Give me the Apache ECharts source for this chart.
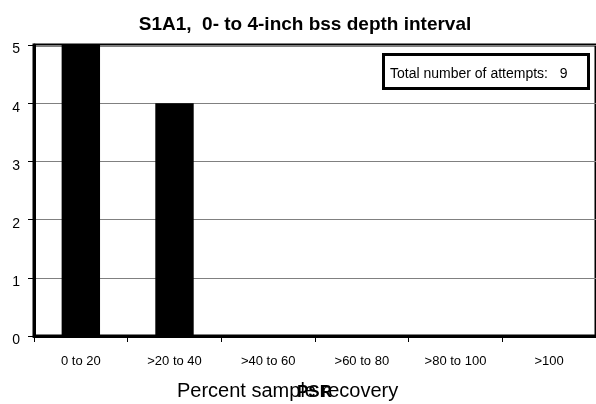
<!DOCTYPE html>
<html>
<head>
<meta charset="utf-8">
<script src="https://cdn.jsdelivr.net/npm/echarts@6/dist/echarts.min.js"></script>
<style>html,body{margin:0;padding:0;background:#fff;}#c{width:596px;height:404px;}</style>
</head>
<body>
<div id="c"></div>
<script>
var categories = ['0 to 20', '>20 to 40', '>40 to 60', '>60 to 80', '>80 to 100', '>100'];
var counts = [5, 4, 0, 0, 0, 0];
var yTicks = [0, 1, 2, 3, 4, 5];
var totalAttempts = 9;
var titleText = 'S1A1,  0- to 4-inch bss depth interval';
var xTitle = 'Percent sample recovery';
var overlayText = 'PSR';

var chart = echarts.init(document.getElementById('c'), null, {renderer: 'canvas'});
var font = 'Liberation Sans, Arial, sans-serif';
chart.setOption({
  animation: false,
  backgroundColor: '#fff',
  title: [{
    text: titleText,
    left: 300, top: 10, textAlign: 'center',
    textStyle: {fontFamily: font, fontSize: 19, fontWeight: 'bold', color: '#000'}
  }],
  grid: {
    left: 34, top: 45, width: 565, height: 291,
    show: true, borderColor: '#000', borderWidth: 3, backgroundColor: 'transparent'
  },
  xAxis: {
    type: 'category', data: categories,
    axisLine: {show: true, lineStyle: {color: '#000', width: 3}},
    axisTick: {show: true, length: 6, lineStyle: {color: '#000'}},
    axisLabel: {fontFamily: font, fontSize: 13, color: '#000', margin: 19}
  },
  yAxis: {
    type: 'value', min: yTicks[0], max: yTicks[yTicks.length - 1], interval: 1,
    axisLine: {show: true, lineStyle: {color: '#000', width: 3}},
    axisTick: {show: true, length: 6, lineStyle: {color: '#000'}},
    axisLabel: {fontFamily: font, fontSize: 14, color: '#000', margin: 14, verticalAlign: 'top', lineHeight: 9},
    splitLine: {show: true, lineStyle: {color: '#808080', width: 1}}
  },
  series: [{
    type: 'bar', data: counts, barWidth: '41%',
    itemStyle: {color: '#000'}
  }],
  graphic: [
    {
      type: 'group', left: 382, top: 53,
      children: [
        {type: 'rect', shape: {x: 1.5, y: 1.5, width: 205, height: 34},
         style: {fill: '#fff', stroke: '#000', lineWidth: 3}},
        {type: 'text', x: 8, y: 21,
         style: {text: 'Total number of attempts:   ' + totalAttempts, font: '14px ' + font, fill: '#000', textVerticalAlign: 'middle'}}
      ]
    },
    {type: 'text', x: 177, y: 391,
     style: {text: xTitle, font: '20px ' + font, fill: '#000', textVerticalAlign: 'middle'}},
    {type: 'text', x: 297, y: 392,
     style: {text: overlayText, font: 'bold 17px ' + font, fill: '#000', textVerticalAlign: 'middle'}}
  ]
});
</script>
</body>
</html>
